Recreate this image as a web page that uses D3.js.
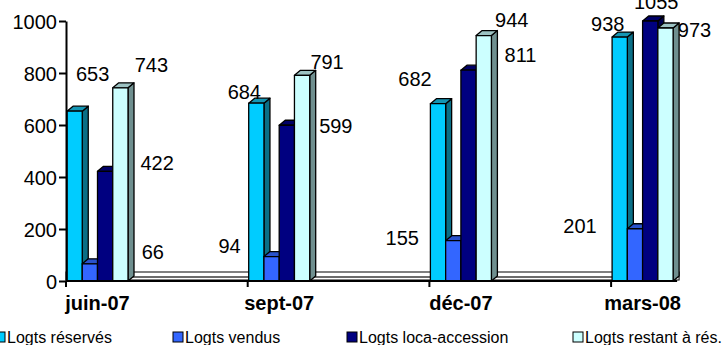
<!DOCTYPE html>
<html>
<head>
<meta charset="utf-8">
<script src="https://cdn.jsdelivr.net/npm/d3@7"></script>
<style>
  html, body { margin: 0; padding: 0; background: #fff; }
  svg { display: block; font-family: "Liberation Sans", Arial, sans-serif; }
</style>
</head>
<body>
<svg id="chart" width="725" height="345"></svg>
<script>
// Quarterly housing figures
const categories = ["juin-07", "sept-07", "déc-07", "mars-08"];
const seriesNames = ["Logts réservés", "Logts vendus", "Logts loca-accession", "Logts restant à rés."];
const reserves = [653, 684, 682, 938];
const vendus = [66, 94, 155, 201];
const locaAccession = [422, 599, 811, 1055];
const restant = [743, 791, 944, 973];
const yTicks = [0, 200, 400, 600, 800, 1000];

const seriesValues = [reserves, vendus, locaAccession, restant];

// Face colours of the 3D columns: front, top, side
const faceColors = [
  { front: "#00CCFF", top: "#1496B4", side: "#0A6F87" },
  { front: "#3366FF", top: "#2952CC", side: "#1F3D99" },
  { front: "#000080", top: "#000066", side: "#00004D" },
  { front: "#CCFFFF", top: "#9CC2C2", side: "#6F8F8F" }
];

// Value-label offsets from each column's top-front centre [dx, dy], per series then per quarter
const labelShift = [
  [[18, -30], [-12, -4], [-23, -18], [-12, -6]],
  [[63, -5], [-42, -4], [-51, 4], [-55, 4]],
  [[52, -1], [49, 8], [52, -8], [6, -12]],
  [[31, -16], [25, -6], [28, -9], [29, 9]]
];

// Legend layout
const legendX = [-5, 173, 347, 573];

const svg = d3.select("#chart");
const depthX = 6, depthY = -5;

const x = d3.scaleBand().domain(categories).range([66, 66 + 4 * 181.7]).paddingInner(0).paddingOuter(0);
const inner = d3.scaleBand().domain(seriesNames).range([1, 62]).paddingInner(0);
const y = d3.scaleLinear().domain([0, 1000]).range([281, 21]);
const bw = inner.bandwidth();
const yMax = y.domain()[1];

// last column's right edge, where the floor stops
const floorEnd = x(categories[categories.length - 1]) + inner(seriesNames[3]) + bw + depthX;

// Floor slab
const floor = svg.append("g");
floor.append("rect")
  .attr("x", x.range()[0]).attr("y", y(0) - 9)
  .attr("width", floorEnd - x.range()[0]).attr("height", 8)
  .attr("fill", "#fff").attr("stroke", "#000").attr("stroke-width", 1);
floor.append("line")
  .attr("x1", x.range()[0]).attr("x2", floorEnd)
  .attr("y1", y(0) - 4).attr("y2", y(0) - 4)
  .attr("stroke", "#6b6b6b").attr("stroke-width", 2);

// Columns
const bars = svg.append("g");
categories.forEach((cat, ci) => {
  seriesNames.forEach((name, si) => {
    const v = Math.min(seriesValues[si][ci], yMax);
    const x0 = x(cat) + inner(name);
    const x1 = x0 + bw;
    const yt = y(v), yb = y(0);
    const c = faceColors[si];
    const g = bars.append("g").attr("stroke", "#000").attr("stroke-width", 1.3).attr("stroke-linejoin", "round");
    g.append("polygon")
      .attr("points", [[x1, yt], [x1 + depthX, yt + depthY], [x1 + depthX, yb + depthY], [x1, yb]].join(" "))
      .attr("fill", c.side);
    g.append("polygon")
      .attr("points", [[x0, yt], [x0 + depthX, yt + depthY], [x1 + depthX, yt + depthY], [x1, yt]].join(" "))
      .attr("fill", c.top);
    g.append("rect")
      .attr("x", x0).attr("y", yt).attr("width", bw).attr("height", yb - yt)
      .attr("fill", c.front);
  });
});

// Value axis
const yAxis = svg.append("g")
  .attr("transform", `translate(${x.range()[0]},0)`)
  .call(d3.axisLeft(y).tickValues(yTicks).tickSize(7).tickSizeOuter(0).tickPadding(2).tickFormat(d3.format("d")));
yAxis.select(".domain").attr("stroke", "#000").attr("stroke-width", 2);
yAxis.selectAll(".tick line").attr("stroke", "#000").attr("stroke-width", 2);
yAxis.selectAll(".tick text")
  .attr("font-size", 20).attr("font-family", "Liberation Sans, Arial, sans-serif")
  .attr("fill", "#000").attr("dy", "0.36em");

// Category axis
const xAxis = svg.append("g");
xAxis.append("line")
  .attr("x1", x.range()[0]).attr("x2", floorEnd - 2)
  .attr("y1", y(0)).attr("y2", y(0))
  .attr("stroke", "#000").attr("stroke-width", 2);
xAxis.selectAll("line.tick").data(categories).join("line")
  .attr("class", "tick")
  .attr("x1", d => x(d)).attr("x2", d => x(d))
  .attr("y1", y(0)).attr("y2", y(0) + 6)
  .attr("stroke", "#000").attr("stroke-width", 2);
const groupMid = (inner.range()[0] + inner.range()[1]) / 2;
xAxis.selectAll("text").data(categories).join("text")
  .attr("x", d => x(d) + groupMid)
  .attr("y", y(0) + 29)
  .attr("text-anchor", "middle")
  .attr("font-size", 20).attr("font-weight", "bold")
  .text(d => d);

// Value labels
const labels = svg.append("g").attr("font-size", 20).attr("fill", "#000");
categories.forEach((cat, ci) => {
  seriesNames.forEach((name, si) => {
    const val = seriesValues[si][ci];
    const cx = x(cat) + inner(name) + bw / 2;
    const yt = y(Math.min(val, yMax));
    const [dx, dy] = labelShift[si][ci];
    labels.append("text")
      .attr("x", cx + dx).attr("y", yt + dy)
      .attr("text-anchor", "middle")
      .text(val);
  });
});

// Legend
const legend = svg.append("g");
seriesNames.forEach((name, si) => {
  legend.append("rect")
    .attr("x", legendX[si]).attr("y", 332).attr("width", 10).attr("height", 10)
    .attr("fill", faceColors[si].front).attr("stroke", "#000").attr("stroke-width", 1);
  legend.append("text")
    .attr("x", legendX[si] + 12).attr("y", 342.5)
    .attr("font-size", 16).attr("fill", "#000")
    .text(name);
});
</script>
</body>
</html>
